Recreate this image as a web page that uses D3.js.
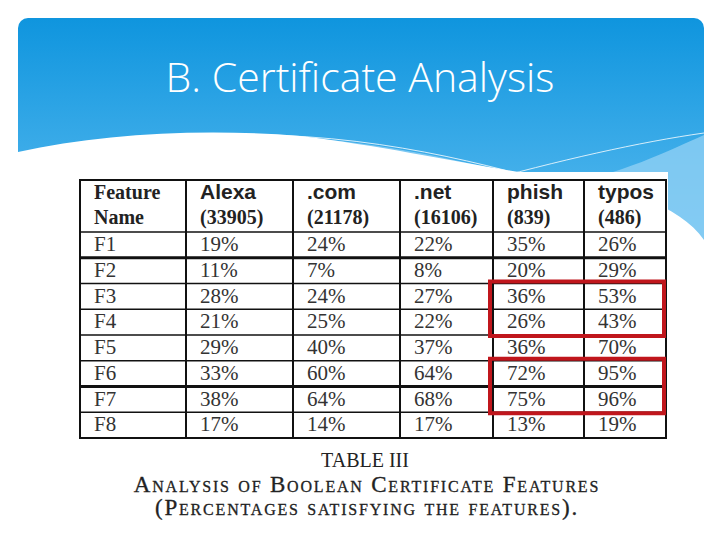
<!DOCTYPE html>
<html><head><meta charset="utf-8">
<script src="https://cdn.jsdelivr.net/npm/d3@7"></script>
<style>body{margin:0;background:#fff}svg{display:block}</style>
</head><body>
<svg id="slide" width="720" height="540"></svg>
<script>
const columns = ["Feature\nName", "Alexa\n(33905)", ".com\n(21178)", ".net\n(16106)", "phish\n(839)", "typos\n(486)"];
const features = ["F1", "F2", "F3", "F4", "F5", "F6", "F7", "F8"];
const alexa = [19, 11, 28, 21, 29, 33, 38, 17];
const dotCom = [24, 7, 24, 25, 40, 60, 64, 14];
const dotNet = [22, 8, 27, 22, 37, 64, 68, 17];
const phish = [35, 20, 36, 26, 36, 72, 75, 13];
const typos = [26, 29, 53, 43, 70, 95, 96, 19];
const highlights = [["F3", "F4"], ["F6", "F7"]];

const svg = d3.select("#slide");
const defs = svg.append("defs");
const grad = defs.append("linearGradient").attr("id", "bg").attr("x1", 0).attr("y1", 0).attr("x2", 0).attr("y2", 1);
grad.append("stop").attr("offset", "0%").attr("stop-color", "#0f95de");
grad.append("stop").attr("offset", "100%").attr("stop-color", "#5cbcf0");
defs.append("clipPath").attr("id", "panel").append("rect")
  .attr("x", 18).attr("y", 18).attr("width", 686).attr("height", 300).attr("rx", 10);

// header panel with wave
const g = svg.append("g").attr("clip-path", "url(#panel)");
g.append("path").attr("fill", "url(#bg)")
  .attr("d", "M18,18 H704 V250 C650,220 560,200 470,225 C380,200 200,160 18,210 Z");
g.append("path").attr("fill", "#8fd0f4").attr("opacity", 0.8)
  .attr("d", "M200,135 C340,130 460,160 560,185 C620,175 670,150 704,135 V250 C620,245 560,230 500,210 C420,170 330,140 200,135 Z");
g.append("path").attr("fill", "#fff")
  .attr("d", "M18,152 C100,134 200,128 300,136 C400,148 480,168 560,178 C620,186 680,205 704,240 V320 H18 Z");
g.append("path").attr("fill", "none").attr("stroke", "#fff").attr("stroke-width", 0.8)
  .attr("d", "M200,136 C350,128 470,160 560,185 M470,185 C560,160 640,142 704,133");

svg.append("text").attr("x", 360).attr("y", 92).attr("text-anchor", "middle")
  .attr("fill", "#fff").attr("font-family", "Open Sans, sans-serif").attr("font-weight", 300).attr("font-size", 41)
  .text("B. Certificate Analysis");

// table
svg.append("rect").attr("x", 70).attr("y", 172).attr("width", 598).attr("height", 272).attr("fill", "#fff");
const colEdges = [80, 186, 293, 400, 493, 584, 666];
const y = d3.scaleBand().domain(features).range([232, 438]);
const tbl = svg.append("g");
const rows = features.map((f, i) => [f, alexa[i], dotCom[i], dotNet[i], phish[i], typos[i]]);

tbl.append("rect").attr("x", 80).attr("y", 180).attr("width", 586).attr("height", 258)
  .attr("fill", "none").attr("stroke", "#111").attr("stroke-width", 2);
colEdges.slice(1, -1).forEach(cx => tbl.append("line").attr("x1", cx).attr("x2", cx)
  .attr("y1", 180).attr("y2", 438).attr("stroke", "#111").attr("stroke-width", 2));
features.forEach(f => tbl.append("line").attr("x1", 80).attr("x2", 666)
  .attr("y1", y(f)).attr("y2", y(f)).attr("stroke", "#111").attr("stroke-width", f === "F2" || f === "F7" ? 3 : 1.5));

columns.forEach((c, j) => {
  c.split("\n").forEach((line, k) => {
    const sans = j > 0 && k === 0;
    tbl.append("text").attr("x", colEdges[j] + 14).attr("y", 199 + k * 25)
      .attr("font-family", sans ? "Liberation Sans, Arial" : "Liberation Serif, Times")
      .attr("font-weight", "bold").attr("font-size", sans ? 21 : 20).attr("fill", "#222").text(line);
  });
});
rows.forEach(r => r.forEach((v, j) => {
  tbl.append("text").attr("x", colEdges[j] + 14).attr("y", y(r[0]) + 19)
    .attr("font-family", "Liberation Serif, Times").attr("font-size", 21).attr("fill", "#333")
    .text(j === 0 ? v : v + "%");
}));
highlights.forEach(h => {
  const y0 = y(h[0]), y1 = y(h[1]) + y.bandwidth();
  svg.append("rect").attr("x", colEdges[4] - 3).attr("y", y0 - 2).attr("width", colEdges[6] - colEdges[4] + 1)
    .attr("height", y1 - y0 + 3).attr("fill", "none").attr("stroke", "#c0161c").attr("stroke-width", 4);
});

// caption
const cap = svg.append("g").attr("font-family", "Liberation Serif, Times").attr("fill", "#222").attr("text-anchor", "middle");
cap.append("text").attr("x", 365).attr("y", 467).attr("font-size", 20).text("TABLE III");
cap.append("text").attr("x", 367).attr("y", 492).attr("font-size", 23).attr("letter-spacing", 1.8)
  .attr("stroke", "#222").attr("stroke-width", 0.3)
  .style("font-variant", "small-caps").text("Analysis of Boolean Certificate Features");
cap.append("text").attr("x", 367).attr("y", 515).attr("font-size", 23).attr("letter-spacing", 1.8)
  .attr("stroke", "#222").attr("stroke-width", 0.3)
  .style("font-variant", "small-caps").text("(Percentages satisfying the features).");
</script>
</body></html>
